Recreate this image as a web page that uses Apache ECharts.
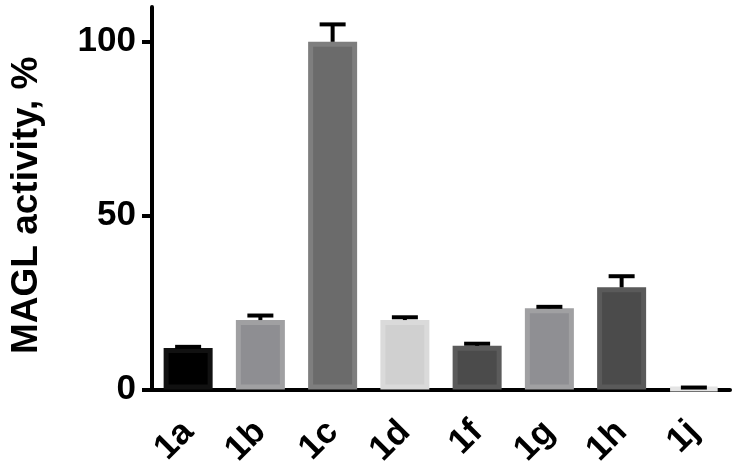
<!DOCTYPE html>
<html>
<head>
<meta charset="utf-8">
<script src="https://cdn.jsdelivr.net/npm/echarts@6/dist/echarts.min.js"></script>
<style>html,body{margin:0;padding:0;background:#fff}#c{width:742px;height:470px}</style>
</head>
<body>
<div id="c"></div>
<script>
var categories = ['1a','1b','1c','1d','1f','1g','1h','1j'];
var values = [12, 20, 100, 20, 12.6, 23.4, 29.4, 0.4];
var errors = [0.3, 1.3, 5, 0.8, 0.6, 0.4, 3.2, 0.2];
var fillColors = ['#000000','#8e8e92','#6b6b6b','#d0d0d0','#4b4b4b','#8f8f93','#4b4b4b','#d8d8d8'];
var borderColors = ['#111111','#a0a0a2','#7e7e7e','#dadada','#5b5b5b','#a0a0a2','#5a5a5a','#e4e4e4'];
var yTicks = [0, 50, 100];

var chart = echarts.init(document.getElementById('c'));
var font = 'Liberation Sans, Arial, sans-serif';
var barData = values.map(function (v, i) {
  return { value: v, itemStyle: { color: fillColors[i], borderColor: borderColors[i], borderWidth: 5 } };
});
var errData = values.map(function (v, i) { return [i, v, errors[i]]; });

chart.setOption({
  animation: false,
  grid: { left: 151, right: 12, top: 7, bottom: 79, containLabel: false },
  xAxis: {
    type: 'category',
    data: categories,
    axisLine: { lineStyle: { color: '#000', width: 4 } },
    axisTick: { alignWithLabel: true, length: 14, lineStyle: { color: '#000', width: 4 } },
    axisLabel: { rotate: 45, margin: 37, color: '#000', fontSize: 35, fontWeight: 'bold', fontFamily: font }
  },
  yAxis: {
    type: 'value',
    min: 0, max: 110, interval: 50,
    name: 'MAGL activity, %',
    nameLocation: 'middle',
    nameRotate: 90,
    nameGap: 107,
    nameTextStyle: { color: '#000', fontSize: 37, fontWeight: 'bold', fontFamily: font, padding: [0, 14, 0, 0] },
    splitLine: { show: false },
    axisLine: { show: true, lineStyle: { color: '#000', width: 4 } },
    axisTick: { show: true, length: 10, customValues: yTicks, lineStyle: { color: '#000', width: 4 } },
    axisLabel: { margin: 16, customValues: yTicks, color: '#000', fontSize: 35, fontWeight: 'bold', fontFamily: font }
  },
  series: [
    { type: 'bar', data: barData, barWidth: 49, z: 2 },
    {
      type: 'custom', z: 5, data: errData,
      renderItem: function (params, api) {
        var x = api.value(0), v = api.value(1), e = api.value(2);
        var p0 = api.coord([x, v]);
        var p1 = api.coord([x, v + e]);
        var hw = 13;
        return {
          type: 'group',
          children: [
            { type: 'line', shape: { x1: p0[0], y1: p0[1], x2: p1[0], y2: p1[1] }, style: { stroke: '#000', lineWidth: 4 } },
            { type: 'line', shape: { x1: p1[0] - hw, y1: p1[1], x2: p1[0] + hw, y2: p1[1] }, style: { stroke: '#000', lineWidth: 4 } }
          ]
        };
      }
    }
  ]
});
</script>
</body>
</html>
